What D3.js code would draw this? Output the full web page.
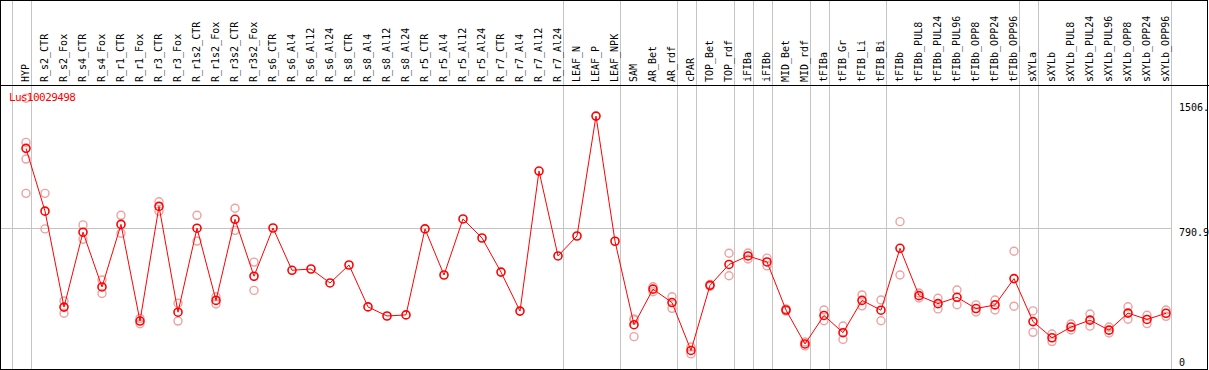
<!DOCTYPE html>
<html>
<head>
<meta charset="utf-8">
<script src="https://cdn.jsdelivr.net/npm/d3@7"></script>
<style>
    body { margin: 0; background: #fff; }
    svg text { font-family: "DejaVu Sans Mono", monospace; }
</style>
</head>
<body>
<div id="chart-ctn"></div>
<script>
// Tissue / sample names, left to right
let categories = [
    "HYP", "R_s2_CTR", "R_s2_Fox", "R_s4_CTR", "R_s4_Fox", "R_r1_CTR", "R_r1_Fox",
    "R_r3_CTR", "R_r3_Fox", "R_r1s2_CTR", "R_r1s2_Fox", "R_r3s2_CTR", "R_r3s2_Fox",
    "R_s6_CTR", "R_s6_Al4", "R_s6_Al12", "R_s6_Al24", "R_s8_CTR", "R_s8_Al4",
    "R_s8_Al12", "R_s8_Al24", "R_r5_CTR", "R_r5_Al4", "R_r5_Al12", "R_r5_Al24",
    "R_r7_CTR", "R_r7_Al4", "R_r7_Al12", "R_r7_Al24", "LEAF_N", "LEAF_P", "LEAF_NPK",
    "SAM", "AR_Bet", "AR_rdf", "cPAR", "TOP_Bet", "TOP_rdf", "iFIBa", "iFIBb",
    "MID_Bet", "MID_rdf", "tFIBa", "tFIB_Gr", "tFIB_Li", "tFIB_Bi", "tFIBb",
    "tFIBb_PUL8", "tFIBb_PUL24", "tFIBb_PUL96", "tFIBb_OPP8", "tFIBb_OPP24", "tFIBb_OPP96",
    "sXYLa", "sXYLb", "sXYLb_PUL8", "sXYLb_PUL24", "sXYLb_PUL96", "sXYLb_OPP8",
    "sXYLb_OPP24", "sXYLb_OPP96"
];

// First sample of each group (a gray separator goes before it)
let groupStarts = [
    "HYP", "R_s2_CTR", "LEAF_N", "SAM", "cPAR", "TOP_Bet", "iFIBa", "iFIBb",
    "MID_Bet", "tFIBa", "tFIB_Gr", "tFIBb", "sXYLa", "sXYLb"
];

// Mean expression per sample
let meanValues = [
    1230, 884, 355, 768, 466, 811, 278, 910, 327, 790, 392, 839, 525,
    791, 558, 565, 488, 587, 356, 306, 312, 786, 532, 841, 736,
    548, 333, 1105, 637, 747, 1408, 718,
    258, 454, 380, 116, 475, 590, 637, 604,
    339, 152, 309, 214, 392, 338, 679,
    418, 374, 409, 347, 367, 512,
    275, 186, 245, 283, 228, 322, 287, 321
];

// Replicate values per sample
let replicates = [
    [1506, 1263, 1171, 982], [982, 786], [389, 321], [808, 729], [504, 430],
    [861, 762], [293, 263], [936, 884], [376, 278], [861, 719], [412, 372],
    [900, 778], [603, 447],
    [], [], [], [], [], [], [], [], [], [], [], [], [], [], [], [], [], [], [],
    [290, 285, 192], [467, 440], [412, 348], [135, 97], [480, 470], [652, 528],
    [653, 620], [625, 582],
    [345, 333], [163, 141], [339, 280], [251, 177], [422, 362], [394, 280], [826, 532],
    [433, 405], [404, 345], [449, 368], [367, 328], [394, 339], [663, 360],
    [334, 216], [207, 165], [262, 229], [317, 250], [245, 212], [357, 288],
    [310, 264], [339, 304]
];

let title = "Lus10029498";
let yMax = 1506;
let yMid = 790.9;
let yTickLabels = ["1506.", "790.9", "0"];

let W = 1209, H = 370;
let headerH = 85;
let plotRight = 1171;
let gray = "#c4c4c4";

let svg = d3.select("#chart-ctn")
    .append("svg")
    .attr("width", W)
    .attr("height", H);

svg.append("rect").attr("width", W).attr("height", H).attr("fill", "#fff");

let x = d3.scalePoint().domain(categories).range([26, 1166]);
let step = x.step();
let y = d3.scaleLinear().domain([0, yMax]).range([371.5, 98.3]);

// group separators
let sepX = groupStarts.map((c) => Math.round(x(c) - step * 0.76) + 0.5);
sepX.push(Math.round(x(categories[categories.length - 1]) + step * 0.25) + 0.5);

svg.selectAll(".sep")
    .data(sepX)
    .enter()
    .append("line")
    .attr("class", "sep")
    .attr("x1", (d) => d)
    .attr("x2", (d) => d)
    .attr("y1", 0)
    .attr("y2", H)
    .attr("stroke", gray)
    .attr("stroke-width", 1);

// mid gridline
svg.append("line")
    .attr("x1", 0)
    .attr("x2", plotRight)
    .attr("y1", Math.round(y(yMid)) + 0.5)
    .attr("y2", Math.round(y(yMid)) + 0.5)
    .attr("stroke", gray)
    .attr("stroke-width", 1);

// frame
svg.append("rect")
    .attr("x", 0.5)
    .attr("y", 0.5)
    .attr("width", 1207)
    .attr("height", 369)
    .attr("fill", "none")
    .attr("stroke", "#000");

svg.append("line")
    .attr("x1", 0)
    .attr("x2", W)
    .attr("y1", headerH + 0.5)
    .attr("y2", headerH + 0.5)
    .attr("stroke", "#000");

// header labels
svg.selectAll(".lbl")
    .data(categories)
    .enter()
    .append("text")
    .attr("class", "lbl")
    .attr("transform", (d) => `translate(${x(d) + 3},82) rotate(-90)`)
    .attr("font-size", "10px")
    .attr("fill", "#000")
    .text((d) => d);

// right value labels
let tickVals = [yMax, yMid, 0];
let tickY = [110.5, 236, 366];
svg.selectAll(".tick")
    .data(yTickLabels)
    .enter()
    .append("text")
    .attr("class", "tick")
    .attr("x", 1179)
    .attr("y", (d, i) => tickY[i])
    .attr("font-size", "10px")
    .attr("fill", "#000")
    .text((d) => d);

// replicates
let repPts = [];
replicates.forEach((reps, i) => {
    reps.forEach((v) => repPts.push({ c: categories[i], v: v }));
});

svg.selectAll(".rep")
    .data(repPts)
    .enter()
    .append("circle")
    .attr("class", "rep")
    .attr("cx", (d) => x(d.c))
    .attr("cy", (d) => y(d.v))
    .attr("r", 4)
    .attr("fill", "none")
    .attr("stroke", "#f0a0a0")
    .attr("stroke-width", 1.4);

// mean line
let meanData = categories.map((c, i) => ({ c: c, v: meanValues[i] }));

svg.append("path")
    .datum(meanData)
    .attr("fill", "none")
    .attr("stroke", "#ff0000")
    .attr("stroke-width", 1)
    .attr("d", d3.line().x((d) => x(d.c)).y((d) => y(d.v)));

svg.selectAll(".mean")
    .data(meanData)
    .enter()
    .append("circle")
    .attr("class", "mean")
    .attr("cx", (d) => x(d.c))
    .attr("cy", (d) => y(d.v))
    .attr("r", 4)
    .attr("fill", "none")
    .attr("stroke", "#ff0000")
    .attr("stroke-width", 1.6);

// title
svg.append("text")
    .attr("x", 9)
    .attr("y", 101)
    .attr("font-size", "11px")
    .attr("letter-spacing", "-0.6px")
    .attr("fill", "#ff0000")
    .text(title);
</script>
</body>
</html>
